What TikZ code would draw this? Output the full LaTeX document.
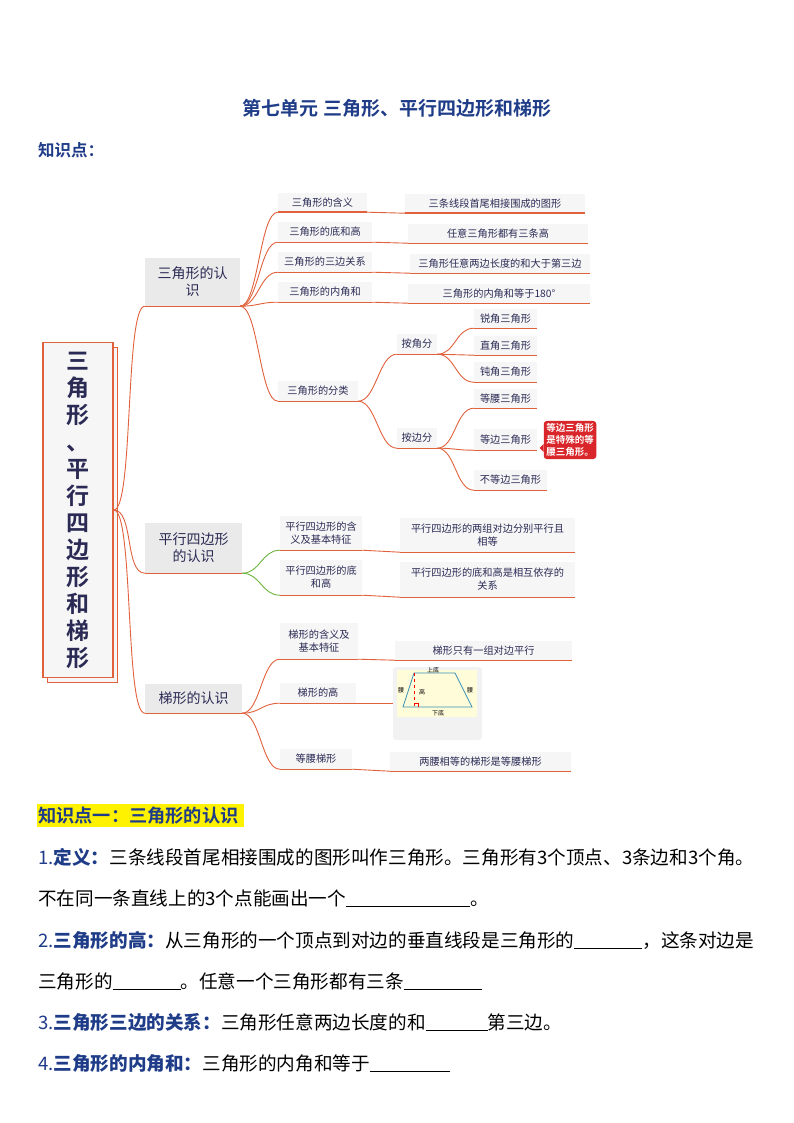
\documentclass[tikz,border=0pt]{standalone}
\usepackage{fontspec}
\setmainfont{Noto Sans CJK SC}
\newfontfamily\cjkb[BoldFont={* Bold}]{Noto Sans CJK SC}
\definecolor{ol}{HTML}{E0613C}
\definecolor{gl}{HTML}{6DB33F}
\definecolor{nv}{HTML}{2A2A55}
\definecolor{tb}{HTML}{1F3C88}
\definecolor{gf}{HTML}{EAEAEA}
\definecolor{lf}{HTML}{F6F6F6}
\definecolor{cr}{HTML}{D9262A}
\tikzset{
 lvone/.style={fill=gf,inner sep=1pt,align=center,text=nv,font=\fontsize{14}{17}\selectfont},
 lvtwo/.style={fill=lf,inner sep=1pt,align=center,text=nv,font=\fontsize{10.2}{13}\selectfont},
 uline/.style={draw=ol,line width=1.4pt},
 conn/.style={draw=ol,line width=0.9pt},
 gconn/.style={draw=gl,line width=0.9pt},
 body/.style={anchor=base west,inner sep=0pt,font=\fontsize{18.6}{22}\selectfont},
}
\newcommand{\mm}[7]{\node[#7,minimum width={#4pt-#2pt},minimum height={#5pt-#3pt}] (#1) at ({(#2+#4)/2},{(#3+#5)/2}) {#6};
\draw[uline] (#1.south west) -- (#1.south east);}
\newcommand{\cc}[3][conn]{\draw[#1] (#2.south east) .. controls +(18,0) and +(-18,0) .. (#3.south west);}
\newcommand{\hl}[2]{\draw[conn] (#1.south east) -- (#2.south west);}
\begin{document}
\begin{tikzpicture}[x=1pt,y=-1pt]
\useasboundingbox (0,0) rectangle (794,1123);
\node[font=\cjkb\bfseries\fontsize{19}{22}\selectfont,text=tb] (title) at (397,108) {第七单元\ 三角形、平行四边形和梯形};
\node[font=\cjkb\bfseries\fontsize{16.5}{19}\selectfont,text=tb,anchor=west,inner sep=0pt] (kp) at (38,150) {知识点：};
% root
\fill[lf,draw=ol,line width=1pt] (47,347) rectangle (117,682);
\node[fill=lf,draw=ol,line width=1.5pt,minimum width=70pt,minimum height=335pt,align=center,text=nv,font=\cjkb\bfseries\fontsize{23}{27}\selectfont] (root) at (78,510) {三\\角\\形\\、\\平\\行\\四\\边\\形\\和\\梯\\形};
% level1
\mm{a}{145}{258}{240}{306}{三角形的认\\识}{lvone}
\mm{b}{145}{523}{242}{573}{平行四边形\\的认识}{lvone}
\mm{c}{145}{684}{242}{713}{梯形的认识}{lvone}
\draw[conn] (root.east) .. controls +(20,0) and +(-20,0) .. (a.south west);
\draw[conn] (root.east) .. controls +(20,0) and +(-20,0) .. (b.south west);
\draw[conn] (root.east) .. controls +(20,0) and +(-20,0) .. (c.south west);
% triangle
\mm{a1}{278}{193}{367}{212}{三角形的含义}{lvtwo}
\mm{a2}{278}{222}{372}{242}{三角形的底和高}{lvtwo}
\mm{a3}{278}{252}{372}{272}{三角形的三边关系}{lvtwo}
\mm{a4}{278}{282}{372}{302}{三角形的内角和}{lvtwo}
\mm{a5}{278}{381}{358}{401}{三角形的分类}{lvtwo}
\foreach \n in {a1,a2,a3,a4,a5}{\cc{a}{\n}}
\mm{l1}{405}{194}{585}{213}{三条线段首尾相接围成的图形}{lvtwo}
\mm{l2}{408}{224}{588}{243}{任意三角形都有三条高}{lvtwo}
\mm{l3}{410}{254}{590}{273}{三角形任意两边长度的和大于第三边}{lvtwo}
\mm{l4}{408}{284}{590}{303}{三角形的内角和等于180°}{lvtwo}
\hl{a1}{l1}\hl{a2}{l2}\hl{a3}{l3}\hl{a4}{l4}
\mm{j}{397}{334}{437}{354}{按角分}{lvtwo}
\mm{s}{397}{428}{437}{448}{按边分}{lvtwo}
\cc{a5}{j}\cc{a5}{s}
\mm{j1}{474}{309}{537}{328}{锐角三角形}{lvtwo}
\mm{j2}{474}{336}{537}{355}{直角三角形}{lvtwo}
\mm{j3}{474}{362}{537}{382}{钝角三角形}{lvtwo}
\mm{s1}{474}{389}{537}{408}{等腰三角形}{lvtwo}
\mm{s2}{474}{429}{537}{450}{等边三角形}{lvtwo}
\mm{s3}{474}{470}{547}{490}{不等边三角形}{lvtwo}
\cc{j}{j1}\cc{j}{j2}\cc{j}{j3}\cc{s}{s1}\cc{s}{s2}\cc{s}{s3}
\node[fill=cr,rounded corners=3pt,text=white,align=left,inner sep=2.5pt,font=\cjkb\bfseries\fontsize{9.5}{12}\selectfont] (call) at (570,440) {等边三角形\\是特殊的等\\腰三角形。};
\fill[cr] ([yshift=-4pt]call.west) -- ++(-4,4) -- ++(4,4) -- cycle;
% parallelogram
\mm{b1}{280}{516}{362}{550}{平行四边形的含\\义及基本特征}{lvtwo}
\mm{b2}{280}{560}{362}{595}{平行四边形的底\\和高}{lvtwo}
\cc[gconn]{b}{b1}\cc[gconn]{b}{b2}
\mm{m1}{400}{518}{575}{552}{平行四边形的两组对边分别平行且\\相等}{lvtwo}
\mm{m2}{400}{562}{575}{597}{平行四边形的底和高是相互依存的\\关系}{lvtwo}
\hl{b1}{m1}\hl{b2}{m2}
% trapezoid
\mm{c1}{280}{623}{358}{659}{梯形的含义及\\基本特征}{lvtwo}
\mm{c2}{280}{683}{356}{703}{梯形的高}{lvtwo}
\mm{c3}{280}{749}{352}{769}{等腰梯形}{lvtwo}
\foreach \n in {c1,c2,c3}{\cc{c}{\n}}
\mm{t1}{395}{641}{572}{660}{梯形只有一组对边平行}{lvtwo}
\mm{t3}{390}{752}{571}{771}{两腰相等的梯形是等腰梯形}{lvtwo}
\hl{c1}{t1}\hl{c3}{t3}
\node[fill=black!5,rounded corners=3pt,minimum width=89pt,minimum height=73pt] (pic) at (437.5,703.5) {};
\draw[conn] (c2.south east) -- (pic.west |- c2.south);
\fill[yellow!15] (397,670) rectangle (477,717);
\draw[cyan!70!black,line width=0.8pt] (403,707) -- (472,707) -- (455,673) -- (414,673) -- cycle;
\draw[red,dashed,line width=0.5pt] (414,673) -- (414,707);
\draw[red,line width=0.4pt] (414,703) -- (418,703) -- (418,707);
\node[font=\fontsize{6}{7}\selectfont] (ud) at (433,670) {上底};
\node[font=\fontsize{6}{7}\selectfont] (dd) at (438,713) {下底};
\node[font=\fontsize{6}{7}\selectfont] (y1) at (401,690) {腰};
\node[font=\fontsize{6}{7}\selectfont] (y2) at (470,690) {腰};
\node[font=\fontsize{6}{7}\selectfont] (gg) at (422,692) {高};
% body text
\fill[yellow] (37,804) rectangle (244,827);
\node[body,font=\cjkb\bfseries\fontsize{18.2}{21}\selectfont,text=tb] (h1) at (38,822) {知识点一：三角形的认识};
\node[body] (p1) at (38,864) {\textcolor{tb}{1.}\textbf{\textcolor{tb}{定义：}}三条线段首尾相接围成的图形叫作三角形。三角形有3个顶点、3条边和3个角。};
\node[body] (p1b) at (38,905) {不在同一条直线上的3个点能画出一个\underline{\hspace{124pt}}。};
\node[body] (p2) at (38,947) {\textcolor{tb}{2.}\textbf{\textcolor{tb}{三角形的高：}}从三角形的一个顶点到对边的垂直线段是三角形的\underline{\hspace{68pt}}，这条对边是};
\node[body] (p2b) at (38,988) {三角形的\underline{\hspace{68pt}}。任意一个三角形都有三条\underline{\hspace{78pt}}};
\node[body] (p3) at (38,1029) {\textcolor{tb}{3.}\textbf{\textcolor{tb}{三角形三边的关系：}}三角形任意两边长度的和\underline{\hspace{62pt}}第三边。};
\node[body] (p4) at (38,1070) {\textcolor{tb}{4.}\textbf{\textcolor{tb}{三角形的内角和：}}三角形的内角和等于\underline{\hspace{80pt}}};
\end{tikzpicture}
\end{document}
